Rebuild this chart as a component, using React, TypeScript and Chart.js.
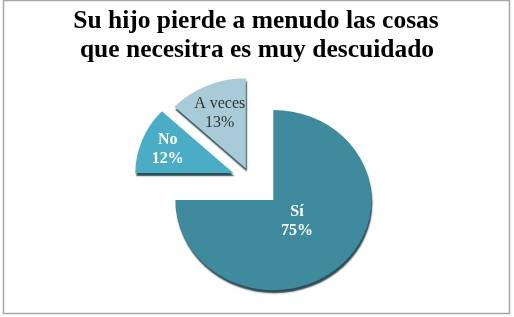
import { useEffect, useRef } from "react";
import { Chart, registerables } from "chart.js";

Chart.register(...registerables);

const TITLE_LINES = ["Su hijo pierde a menudo las cosas", "que necesitra es muy descuidado"];
const CATEGORIES = ["Sí", "No", "A veces"];
const VALUES = [75, 12, 13];
const PERCENT_LABELS = ["75%", "12%", "13%"];
const COLORS = ["#3f8a9d", "#4bacc6", "#a9cbd8"];
const EXPLODE = [31.6, 19, 13];
const LABEL_COLORS = ["#ffffff", "#ffffff", "#333333"];
const LABEL_WEIGHTS = ["bold", "bold", "normal"];
const LABEL_DIST = [0.34, 0.72, 0.67];

const Y_SCALE = 0.92;
const SERIF = '"Liberation Serif", "Times New Roman", serif';

const pieLook = {
  id: "pieLook",
  beforeDraw(chart: any) {
    const ctx = chart.ctx;
    ctx.save();
    ctx.fillStyle = "#ffffff";
    ctx.fillRect(0, 0, chart.width, chart.height);
    ctx.strokeStyle = "#a6a6a6";
    ctx.lineWidth = 1.5;
    ctx.strokeRect(3.5, 0.5, 506, 313);
    ctx.fillStyle = "#000000";
    ctx.font = `bold 25.5px ${SERIF}`;
    ctx.textAlign = "center";
    ctx.textBaseline = "alphabetic";
    ctx.fillText(TITLE_LINES[0], 256, 28);
    ctx.fillText(TITLE_LINES[1], 257, 57);
    ctx.restore();
  },
  beforeDatasetsDraw(chart: any) {
    const ctx = chart.ctx;
    const arcs = chart.getDatasetMeta(0).data;
    const cx = arcs[0].x;
    const cy = arcs[0].y;
    ctx.save();
    ctx.translate(cx, cy);
    ctx.scale(1, Y_SCALE);
    ctx.translate(-cx, -cy);
    ctx.shadowColor = "rgba(20,55,65,0.9)";
    ctx.shadowOffsetX = 1;
    ctx.shadowOffsetY = 3;
    ctx.shadowBlur = 1.5;
    arcs.forEach((arc: any, i: number) => {
      const mid = (arc.startAngle + arc.endAngle) / 2;
      ctx.save();
      ctx.translate(Math.cos(mid) * EXPLODE[i], Math.sin(mid) * EXPLODE[i]);
      arc.draw(ctx);
      ctx.restore();
    });
    ctx.restore();

    ctx.save();
    ctx.textAlign = "center";
    ctx.textBaseline = "middle";
    arcs.forEach((arc: any, i: number) => {
      const mid = (arc.startAngle + arc.endAngle) / 2;
      const r = arc.outerRadius * LABEL_DIST[i] + EXPLODE[i];
      const lx = arc.x + Math.cos(mid) * r;
      const ly = arc.y + Math.sin(mid) * r * Y_SCALE;
      ctx.fillStyle = LABEL_COLORS[i];
      ctx.font = `${LABEL_WEIGHTS[i]} 16px ${SERIF}`;
      ctx.fillText(CATEGORIES[i], lx, ly - 9.5);
      ctx.fillText(PERCENT_LABELS[i], lx, ly + 9.5);
    });
    ctx.restore();
    return false;
  },
};

export default function App() {
  const ref = useRef<HTMLCanvasElement | null>(null);
  useEffect(() => {
    document.body.style.margin = "0";
    const canvas = ref.current;
    if (!canvas) return;
    const chart = new Chart(canvas, {
      type: "pie",
      data: {
        labels: CATEGORIES,
        datasets: [
          {
            data: VALUES,
            backgroundColor: COLORS,
            borderWidth: 0,
            offset: 0,
            clip: false as any,
          },
        ],
      },
      options: {
        responsive: false,
        animation: false,
        events: [],
        radius: 98,
        layout: { padding: { left: 0, right: 12, top: 42, bottom: 0 } },
        plugins: {
          legend: { display: false },
          tooltip: { enabled: false },
          title: { display: false },
        },
      } as any,
      plugins: [pieLook],
    });
    return () => chart.destroy();
  }, []);
  return <canvas ref={ref} width={514} height={317} style={{ display: "block" }} />;
}
